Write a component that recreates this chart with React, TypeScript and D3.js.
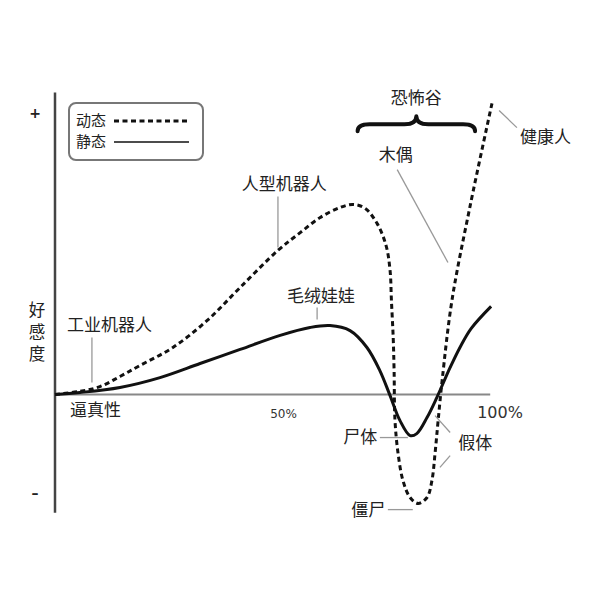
import React from 'react';
import * as d3 from 'd3';

// 逼真性 (%) and 好感度
const staticRealism = [0, 5.6, 14.6, 23.6, 32.6, 41.6, 50.6, 57.3, 61.8, 66.3, 70.1, 73.0, 75.3, 77.5, 79.8, 81.3, 83.6, 85.8, 88.8, 91.0, 93.5, 98.0];
const staticAffinity = [0, 0.7, 2.5, 6.0, 11.0, 16.0, 21.0, 23.8, 24.5, 22.7, 16.7, 8.5, -0.4, -9.2, -14.6, -13.9, -8.2, -1.1, 9.6, 16.7, 23.4, 31.3];

const dynamicRealism = [0, 5.6, 10.1, 14.6, 19.1, 26.5, 34.2, 41.6, 50.1, 55.1, 59.6, 64.0, 67.0, 69.7, 72.4, 74.4, 75.3, 75.6, 76.0, 76.2, 76.4, 77.1, 78.2, 79.8, 81.6, 83.6, 84.7, 85.4, 86.1, 87.0, 89.2, 93.3, 98.2];
const dynamicAffinity = [0, 1.1, 2.8, 6.4, 10.3, 16.7, 26.3, 38.0, 51.2, 57.5, 62.9, 66.4, 67.5, 66.1, 60.7, 52.9, 44.0, 33.4, 20.2, 8.5, -9.2, -21.0, -30.6, -36.6, -38.7, -36.6, -30.6, -21.0, -9.2, 5.0, 33.4, 67.1, 103.4];

const seriesNames = ['动态', '静态'];
const xTicks = [50, 100];
const xTickLabels = ['50%', '100%'];
const yTicks = [100, -35];
const yTickLabels = ['+', '–'];
const valley = [68, 94.4];

const CJK = '"Noto Sans CJK SC", "Noto Sans", sans-serif';

export default function App() {
  const width = 600;
  const height = 600;

  const x = d3.scaleLinear().domain([0, 100]).range([55, 500]);
  const y = d3.scaleLinear().domain([-35, 100]).range([493, 113]);

  const line = d3.line<[number, number]>()
    .x(d => x(d[0]))
    .y(d => y(d[1]))
    .curve(d3.curveCatmullRom.alpha(0.5));

  const staticPts = staticRealism.map((r, i) => [r, staticAffinity[i]] as [number, number]);
  const dynamicPts = dynamicRealism.map((r, i) => [r, dynamicAffinity[i]] as [number, number]);

  // annotation labels (data coords) with leader lines
  const labels = [
    { text: '工业机器人', x: 2.7, y: 22.4, anchor: 'start', lines: [[8.3, 20.2, 8.3, 4.3]] },
    { text: '人型机器人', x: 51.5, y: 72.8, anchor: 'middle', lines: [[50.1, 70.3, 50.1, 52.2]] },
    { text: '毛绒娃娃', x: 59.8, y: 33.0, anchor: 'middle', lines: [[58.9, 30.9, 58.9, 26.6]] },
    { text: '木偶', x: 76.6, y: 82.8, anchor: 'middle', lines: [[76.9, 79.9, 88.3, 46.9]] },
    { text: '健康人', x: 104.5, y: 89.2, anchor: 'start', lines: [[99.8, 100.9, 103.8, 94.8]] },
    { text: '尸体', x: 72.4, y: -17.4, anchor: 'end', lines: [[73.0, -15.3, 79.3, -15.3]] },
    { text: '假体', x: 90.6, y: -19.2, anchor: 'start', lines: [[88.8, -13.5, 85.4, -7.5], [88.8, -21.7, 86.5, -25.9]] },
    { text: '僵尸', x: 74.2, y: -43.0, anchor: 'end', lines: [[74.8, -40.9, 80.4, -40.9]] },
  ];

  // curly brace over the valley
  const bx0 = x(valley[0]);
  const bx1 = x(valley[1]);
  const bc = (bx0 + bx1) / 2;
  const ya = y(96);
  const yb = ya + 7;
  const yt = ya - 8;
  const brace = `M${bx0},${yb} Q${bx0},${ya} ${bx0 + 12},${ya} L${bc - 12},${ya} Q${bc},${ya} ${bc},${yt} Q${bc},${ya} ${bc + 12},${ya} L${bx1 - 12},${ya} Q${bx1},${ya} ${bx1},${yb}`;

  const legendX = 69;
  const legendY = 103;

  return (
    <svg width={width} height={height} style={{ position: 'absolute', left: 0, top: 0, background: '#fff' }}>
      {/* axes */}
      <line x1={x(0)} x2={x(97.8)} y1={y(0)} y2={y(0)} stroke="#888" strokeWidth={2} />
      <line x1={x(0)} x2={x(0)} y1={y(107.3)} y2={y(-42)} stroke="#444" strokeWidth={2.5} />

      {yTicks.map((t, i) => (
        <text key={t} x={35} y={y(t)} dy="0.35em" textAnchor="middle"
          style={{ fontFamily: 'DejaVu Sans, sans-serif', fontSize: 14, fontWeight: 'bold', fill: '#222' }}>
          {yTickLabels[i]}
        </text>
      ))}
      {xTicks.map((t, i) => (
        <text key={t} x={x(t) + (i === 0 ? 6 : 0)} y={418} textAnchor="middle"
          style={{ fontFamily: 'DejaVu Sans, sans-serif', fontSize: i === 0 ? 12 : 16, fill: '#333' }}>
          {xTickLabels[i]}
        </text>
      ))}

      <text x={70} y={416} style={{ fontFamily: CJK, fontSize: 17, fill: '#222' }}>逼真性</text>
      {['好', '感', '度'].map((c, i) => (
        <text key={c} x={37} y={316 + i * 22} textAnchor="middle" style={{ fontFamily: CJK, fontSize: 16.5, fill: '#222' }}>{c}</text>
      ))}

      {/* curves */}
      <path d={line(staticPts) || ''} fill="none" stroke="#111" strokeWidth={3} strokeLinejoin="round" />
      <path d={line(dynamicPts) || ''} fill="none" stroke="#111" strokeWidth={3} strokeDasharray="5,3.5" />

      {/* annotations */}
      {labels.map(l => (
        <g key={l.text}>
          {l.lines.map((s, j) => (
            <line key={j} x1={x(s[0])} y1={y(s[1])} x2={x(s[2])} y2={y(s[3])} stroke="#999" strokeWidth={1.3} />
          ))}
          <text x={x(l.x)} y={y(l.y)} textAnchor={l.anchor as any} style={{ fontFamily: CJK, fontSize: 17, fill: '#222' }}>{l.text}</text>
        </g>
      ))}

      <text x={bc} y={y(103.2)} textAnchor="middle" style={{ fontFamily: CJK, fontSize: 17, fill: '#222' }}>恐怖谷</text>
      <path d={brace} fill="none" stroke="#111" strokeWidth={4} strokeLinecap="round" strokeLinejoin="round" />

      {/* legend */}
      <rect x={legendX} y={legendY} width={134} height={57} rx={7} fill="#fff" stroke="#777" strokeWidth={2} />
      {seriesNames.map((n, i) => (
        <g key={n}>
          <text x={legendX + 7} y={legendY + 23 + i * 21} style={{ fontFamily: CJK, fontSize: 15, fill: '#222' }}>{n}</text>
          <line x1={legendX + 45} x2={legendX + 120} y1={legendY + 18 + i * 21} y2={legendY + 18 + i * 21}
            stroke="#111" strokeWidth={i === 0 ? 3 : 1.3} strokeDasharray={i === 0 ? '5,3.5' : undefined} />
        </g>
      ))}
    </svg>
  );
}
